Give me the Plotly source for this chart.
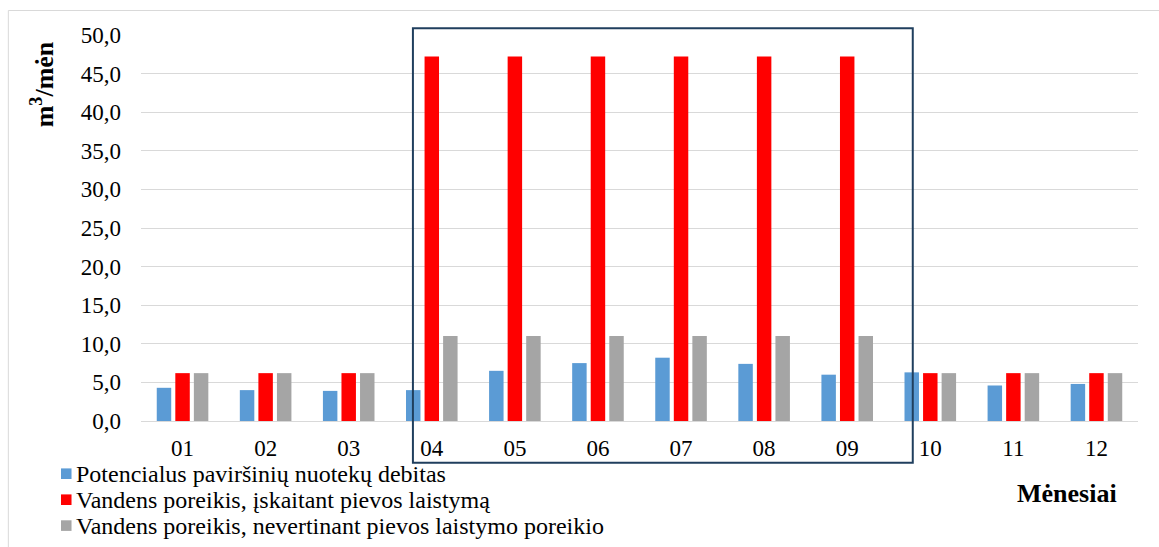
import plotly.graph_objects as go

months = ["01", "02", "03", "04", "05", "06", "07", "08", "09", "10", "11", "12"]
runoff = [4.3, 4.0, 3.9, 4.0, 6.5, 7.5, 8.2, 7.4, 6.0, 6.3, 4.6, 4.8]
demand_with_lawn = [6.2, 6.2, 6.2, 47.2, 47.2, 47.2, 47.2, 47.2, 47.2, 6.2, 6.2, 6.2]
demand_without_lawn = [6.2, 6.2, 6.2, 11.0, 11.0, 11.0, 11.0, 11.0, 11.0, 6.2, 6.2, 6.2]
y_ticks = [0, 5, 10, 15, 20, 25, 30, 35, 40, 45, 50]

names = [
    "Potencialus paviršinių nuotekų debitas",
    "Vandens poreikis, įskaitant pievos laistymą",
    "Vandens poreikis, nevertinant pievos laistymo poreikio",
]
colors = ["#5B9BD5", "#FF0000", "#A5A5A5"]

FONT = "Liberation Serif"
TICK_FS = 23
LEG_FS = 24
TITLE_FS = 26

W, H = 1159, 547
L, R, T, B = 140.7, 21, 35, 126
pw = W - L - R
ph = H - T - B

def px(x):
    return (x - L) / pw

def py(y):
    return (H - B - y) / ph

fig = go.Figure()
for name, vals, c in zip(names, [runoff, demand_with_lawn, demand_without_lawn], colors):
    fig.add_trace(go.Bar(x=months, y=vals, name=name, marker=dict(color=c, line=dict(width=0))))

fig.update_layout(
    width=W, height=H,
    margin=dict(l=L, r=R, t=T, b=B, autoexpand=False),
    paper_bgcolor="white", plot_bgcolor="white",
    barmode="group", bargap=0.33, bargroupgap=0.22,
    separators=", ",
    font=dict(family=FONT, size=TICK_FS, color="black"),
    showlegend=False,
    xaxis=dict(
        type="category", showgrid=False, showline=False, zeroline=False,
        ticks="", ticklabelstandoff=11, tickfont=dict(family=FONT, size=TICK_FS, color="black"),
    ),
    yaxis=dict(
        range=[0, 50], tickvals=y_ticks, tickformat=".1f",
        showgrid=True, gridcolor="#D9D9D9", gridwidth=1.3,
        zeroline=True, zerolinecolor="#D9D9D9", zerolinewidth=1.3,
        showline=False, ticks="", ticklabelstandoff=19,
        tickfont=dict(family=FONT, size=TICK_FS, color="black"),
    ),
)

# legend (drawn below the axis, left aligned)
leg_rows = [473.7, 499.7, 525.6]
for name, c, yc in zip(names, colors, leg_rows):
    fig.add_shape(type="rect", xref="paper", yref="paper",
                  x0=px(60.7), x1=px(71.2), y0=py(yc + 5.3), y1=py(yc - 5.3),
                  line=dict(width=0), fillcolor=c)
    fig.add_annotation(text=name, xref="paper", yref="paper",
                       x=px(74), y=py(yc + 0.5), xanchor="left", yanchor="middle",
                       showarrow=False, font=dict(family=FONT, size=LEG_FS, color="black"))

# y-axis title
fig.add_annotation(
    text="<b>m<sup>3</sup>/mėn</b>", textangle=-90,
    xref="paper", yref="paper", x=px(42), y=py(84),
    xanchor="center", yanchor="middle", showarrow=False,
    font=dict(family=FONT, size=TITLE_FS, color="black"),
)
# x-axis title
fig.add_annotation(
    text="<b>Mėnesiai</b>",
    xref="paper", yref="paper", x=px(1067), y=py(493),
    xanchor="center", yanchor="middle", showarrow=False,
    font=dict(family=FONT, size=TITLE_FS, color="black"),
)

# outer chart border (only top/left visible)
fig.add_shape(type="rect", xref="paper", yref="paper",
              x0=px(8), x1=px(1170), y0=py(560), y1=py(10.5),
              line=dict(color="#D9D9D9", width=1), layer="below")
# highlight box for growing season
fig.add_shape(type="rect", xref="paper", yref="paper",
              x0=px(412.7), x1=px(912.7), y0=py(462.7), y1=py(28.3),
              line=dict(color="#203F5E", width=2), layer="above")

fig.write_html("out.html")
